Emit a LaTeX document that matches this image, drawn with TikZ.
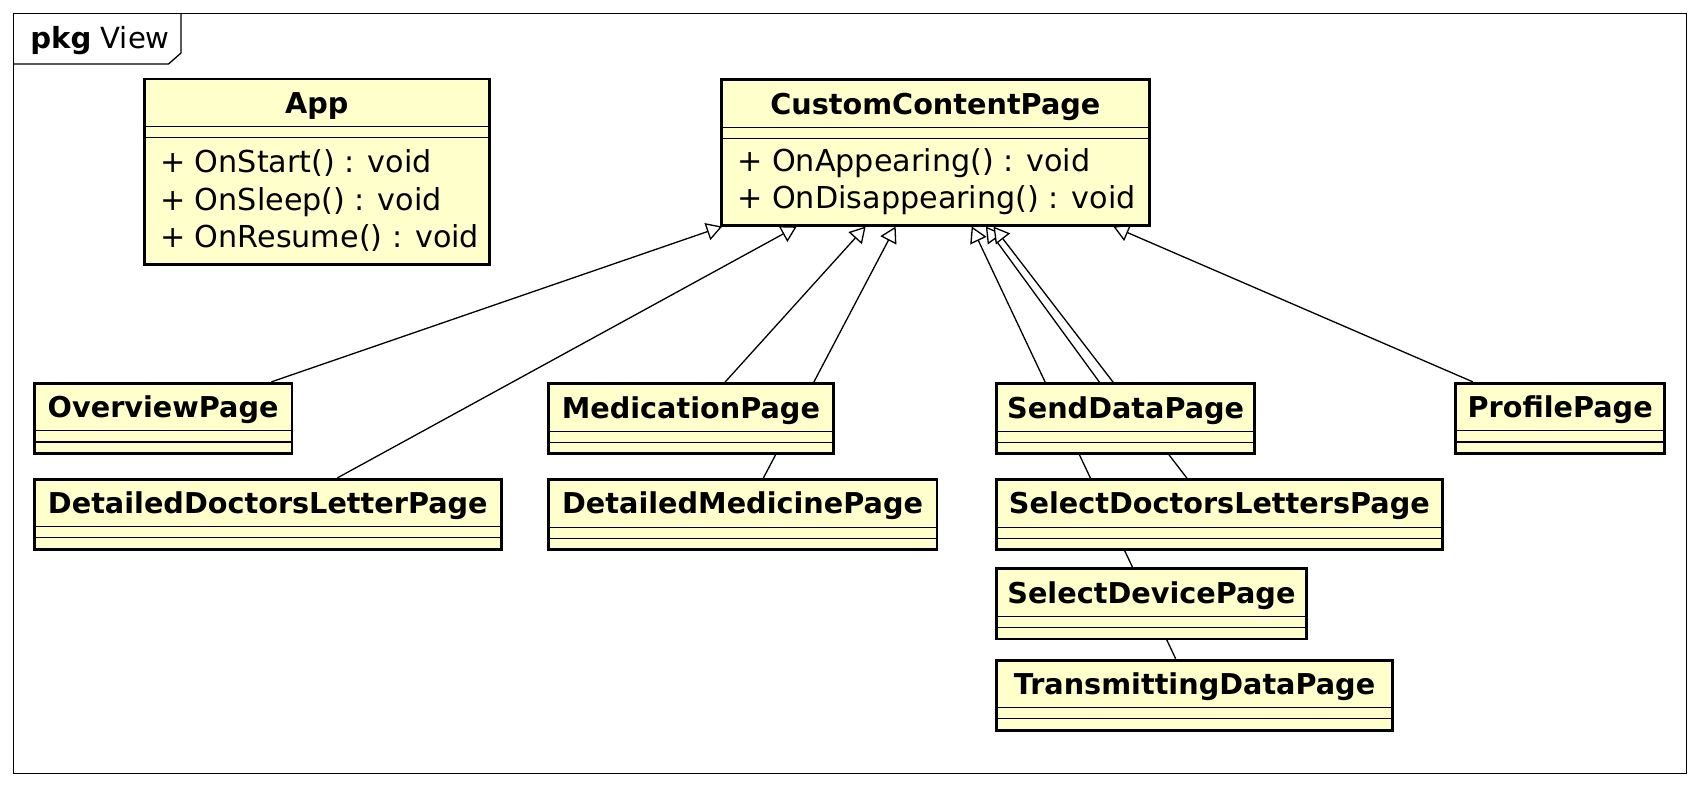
\documentclass[tikz,border=0pt]{standalone}
\usepackage{fontspec}
\setmainfont{DejaVu Sans}
\usetikzlibrary{arrows.meta,shapes.multipart,calc}
\definecolor{umlfill}{HTML}{FFFFCC}
\pgfdeclarelayer{background}
\pgfsetlayers{background,main}
% class name, empty and operation compartments
\newcommand{\cname}[2]{\makebox[#1][c]{\rule[-5.4pt]{0pt}{20.6pt}\fontsize{13.2}{16}\selectfont\bfseries #2}}
\newcommand{\cgap}[2]{\makebox[#1]{\rule{0pt}{#2}}}
\newcommand{\cops}[3]{\parbox[c][#2][c]{#1}{\fontsize{13.9}{17.25}\selectfont\leftskip=7.3pt #3}}
\begin{document}
\begin{tikzpicture}[x=0.5pt, y=-0.5pt,
                    cbox/.style = {draw,
                                   line width=1.3pt,
                                   fill=umlfill,
                                   rectangle split,
                                   rectangle split parts=3,
                                   rectangle split draw splits=false,
                                   inner sep=0pt,
                                   anchor=north west},
                    csplit/.style = {line width=0.5pt},
                    cline/.style = {line width=0.6pt,
                                    -{Triangle[length=7.2pt,width=8.2pt,fill=white]}},
                    frame/.style = {line width=0.6pt}]
		\useasboundingbox (0,0) rectangle (1567.7,723.1);
		% package frame
		\draw[frame] (12.7,12.3) rectangle (1551.8,711.5);
		\draw[frame] (12.7,58.9) -- (155,58.9) -- (166.5,48.8) -- (166.5,12.3);
		\node[anchor=base west, inner sep=0pt, font=\fontsize{13.4}{15}\selectfont] (pkg) at (27.5,44.5) {\textbf{pkg} View};
		% classes
		\node[cbox] (app) at (131.3,71.3) {\cname{158.9pt}{App}\nodepart{two}\cgap{158.9pt}{3.8pt}\nodepart{three}\cops{158.9pt}{57pt}{+ OnStart() : void\\+ OnSleep() : void\\+ OnResume() : void}};
		\node[cbox] (ccp) at (662.4,72) {\cname{196.8pt}{CustomContentPage}\nodepart{two}\cgap{196.8pt}{3.8pt}\nodepart{three}\cops{196.8pt}{38.6pt}{+ OnAppearing() : void\\+ OnDisappearing() : void}};
		\node[cbox] (ovp) at (30.2,351.3) {\cname{118.6pt}{OverviewPage}\nodepart{two}\cgap{118.6pt}{3.8pt}\nodepart{three}\cgap{118.6pt}{4pt}};
		\node[cbox] (ddlp) at (30.2,439.6) {\cname{214.9pt}{DetailedDoctorsLetterPage}\nodepart{two}\cgap{214.9pt}{3.8pt}\nodepart{three}\cgap{214.9pt}{4pt}};
		\node[cbox] (medp) at (503,351.6) {\cname{131.3pt}{MedicationPage}\nodepart{two}\cgap{131.3pt}{3.8pt}\nodepart{three}\cgap{131.3pt}{4pt}};
		\node[cbox] (dmp) at (503,439.8) {\cname{178.85pt}{DetailedMedicinePage}\nodepart{two}\cgap{178.85pt}{3.8pt}\nodepart{three}\cgap{178.85pt}{4pt}};
		\node[cbox] (sdp) at (915.5,351.6) {\cname{118.8pt}{SendDataPage}\nodepart{two}\cgap{118.8pt}{3.8pt}\nodepart{three}\cgap{118.8pt}{4pt}};
		\node[cbox] (sdlp) at (915.5,439.8) {\cname{205pt}{SelectDoctorsLettersPage}\nodepart{two}\cgap{205pt}{3.8pt}\nodepart{three}\cgap{205pt}{4pt}};
		\node[cbox] (sdvp) at (915.5,522) {\cname{142.5pt}{SelectDevicePage}\nodepart{two}\cgap{142.5pt}{3.8pt}\nodepart{three}\cgap{142.5pt}{4pt}};
		\node[cbox] (tdp) at (915.5,606) {\cname{182.15pt}{TransmittingDataPage}\nodepart{two}\cgap{182.15pt}{3.8pt}\nodepart{three}\cgap{182.15pt}{4pt}};
		\node[cbox] (pfp) at (1337.7,351.3) {\cname{96.35pt}{ProfilePage}\nodepart{two}\cgap{96.35pt}{3.8pt}\nodepart{three}\cgap{96.35pt}{4pt}};
		\foreach \n in {app,ccp,ovp,ddlp,medp,dmp,sdp,sdlp,sdvp,tdp,pfp}
			\draw[csplit] (\n.text split west) -- (\n.text split east)
			              (\n.two split west) -- (\n.two split east);
		% generalizations, behind the boxes
		\begin{pgfonlayer}{background}
			\draw[cline] ($(ovp.north west)+(219.5,0)$) -- ($(ccp.south west)+(2,0)$);
			\draw[cline] ($(ddlp.north west)+(280.3,0)$) -- ($(ccp.south west)+(70.6,0)$);
			\draw[cline] ($(medp.north west)+(164,0)$) -- ($(ccp.south west)+(134,0)$);
			\draw[cline] ($(dmp.north west)+(199.3,0)$) -- ($(ccp.south west)+(161.6,0)$);
			\draw[cline] ($(tdp.north west)+(166.1,0)$) -- ($(ccp.south west)+(231.6,0)$);
			\draw[cline] ($(sdp.north west)+(96,0)$) -- ($(ccp.south west)+(244.6,0)$);
			\draw[cline] ($(sdlp.north west)+(176.4,0)$) -- ($(ccp.south west)+(251.6,0)$);
			\draw[cline] ($(pfp.north west)+(17.3,0)$) -- ($(ccp.south west)+(361.9,0)$);
		\end{pgfonlayer}
	\end{tikzpicture}
\end{document}
